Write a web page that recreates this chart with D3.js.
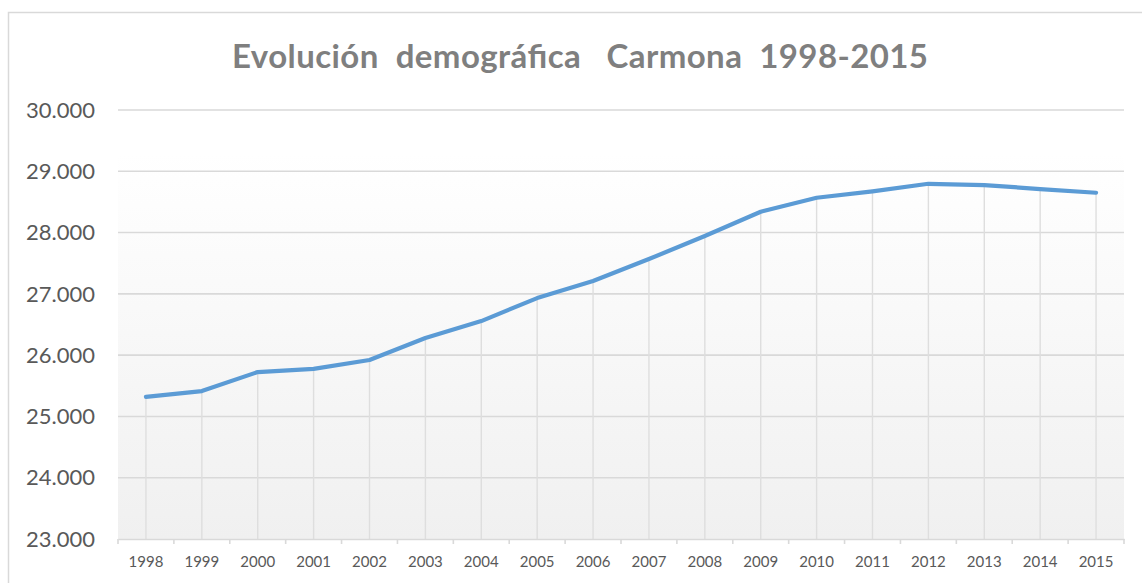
<!DOCTYPE html>
<html lang="es">
<head>
<meta charset="UTF-8">
<title>Evolución demográfica Carmona</title>
<script src="https://d3js.org/d3.v7.min.js"></script>
<style>
  body { margin: 0; background: #fff; }
  svg { display: block; font-family: Lato, "Open Sans", sans-serif; }
</style>
</head>
<body>
<div id="chart"></div>
<script>
  // datos
  var years = ['1998', '1999', '2000', '2001', '2002', '2003', '2004', '2005', '2006',
               '2007', '2008', '2009', '2010', '2011', '2012', '2013', '2014', '2015'];
  var population = [25320, 25414, 25724, 25775, 25920, 26280, 26556, 26931, 27209,
                    27568, 27943, 28340, 28568, 28672, 28796, 28775, 28710, 28650];
  var yTicks = [23000, 24000, 25000, 26000, 27000, 28000, 29000, 30000];
  var title = 'Evolución  demográfica   Carmona  1998-2015';

  var width = 1142, height = 583;
  var plot = { left: 118, right: 1124, top: 110, bottom: 539 };

  var svg = d3.select('#chart').append('svg')
    .attr('width', width)
    .attr('height', height);

  // marco del grafico
  svg.append('rect')
    .attr('x', 8.5).attr('y', 12.5)
    .attr('width', width).attr('height', height + 20)
    .attr('fill', '#fff')
    .attr('stroke', '#d9d9d9')
    .attr('stroke-width', 1.5);

  var grad = svg.append('defs').append('linearGradient')
    .attr('id', 'bg').attr('x1', 0).attr('y1', 0).attr('x2', 0).attr('y2', 1);
  grad.append('stop').attr('offset', '0.1').attr('stop-color', '#ffffff');
  grad.append('stop').attr('offset', '1').attr('stop-color', '#f0f0f0');

  svg.append('rect')
    .attr('x', plot.left).attr('y', plot.top)
    .attr('width', plot.right - plot.left).attr('height', plot.bottom - plot.top)
    .attr('fill', 'url(#bg)');

  var x = d3.scaleBand().domain(years).range([plot.left, plot.right]);
  var y = d3.scaleLinear().domain([23000, 30000]).range([plot.bottom, plot.top]);
  var fmt = function (v) { return d3.format(',')(v).replace(',', '.'); };

  // lineas de division horizontales
  svg.append('g')
    .selectAll('line')
    .data(yTicks.slice(1))
    .enter()
    .append('line')
    .attr('x1', plot.left).attr('x2', plot.right)
    .attr('y1', function (d) { return y(d); })
    .attr('y2', function (d) { return y(d); })
    .attr('stroke', '#d9d9d9')
    .attr('stroke-width', 1.6);

  // lineas de unión (drop lines)
  svg.append('g')
    .selectAll('line')
    .data(years)
    .enter()
    .append('line')
    .attr('x1', function (d) { return x(d) + x.bandwidth() / 2; })
    .attr('x2', function (d) { return x(d) + x.bandwidth() / 2; })
    .attr('y1', function (d, i) { return y(population[i]); })
    .attr('y2', plot.bottom)
    .attr('stroke', '#dedede')
    .attr('stroke-width', 1.4);

  // eje X
  var xAxis = svg.append('g')
    .attr('transform', 'translate(0,' + plot.bottom + ')')
    .call(d3.axisBottom(x).tickSize(0).tickPadding(17));
  xAxis.select('.domain').attr('stroke', '#d9d9d9').attr('stroke-width', 1.6);
  xAxis.selectAll('text')
    .attr('fill', '#595959')
    .style('font-size', '15px')
    .style('font-family', 'Lato, sans-serif');

  // marcas entre categorias
  var bounds = years.map(function (d) { return x(d); }).concat([plot.right]);
  svg.append('g')
    .selectAll('line')
    .data(bounds)
    .enter()
    .append('line')
    .attr('x1', function (d) { return d; })
    .attr('x2', function (d) { return d; })
    .attr('y1', plot.bottom)
    .attr('y2', plot.bottom + 5)
    .attr('stroke', '#d9d9d9')
    .attr('stroke-width', 1.6);

  // etiquetas eje Y
  svg.append('g')
    .selectAll('text')
    .data(yTicks)
    .enter()
    .append('text')
    .attr('x', 95)
    .attr('y', function (d) { return y(d); })
    .attr('dy', '0.35em')
    .attr('text-anchor', 'end')
    .attr('fill', '#595959')
    .style('font-size', '22px')
    .text(fmt);

  // serie
  var line = d3.line()
    .x(function (d, i) { return x(years[i]) + x.bandwidth() / 2; })
    .y(function (d) { return y(d); });

  svg.append('path')
    .datum(population)
    .attr('d', line)
    .attr('fill', 'none')
    .attr('stroke', '#5b9bd5')
    .attr('stroke-width', 4.2)
    .attr('stroke-linejoin', 'round')
    .attr('stroke-linecap', 'round');

  // titulo
  svg.append('text')
    .attr('x', 580)
    .attr('y', 68)
    .attr('text-anchor', 'middle')
    .attr('fill', '#7f7f7f')
    .style('font-size', '33px')
    .style('font-weight', 'bold')
    .attr('xml:space', 'preserve')
    .attr('textLength', 696)
    .attr('lengthAdjust', 'spacing')
    .text(title);
</script>
</body>
</html>
